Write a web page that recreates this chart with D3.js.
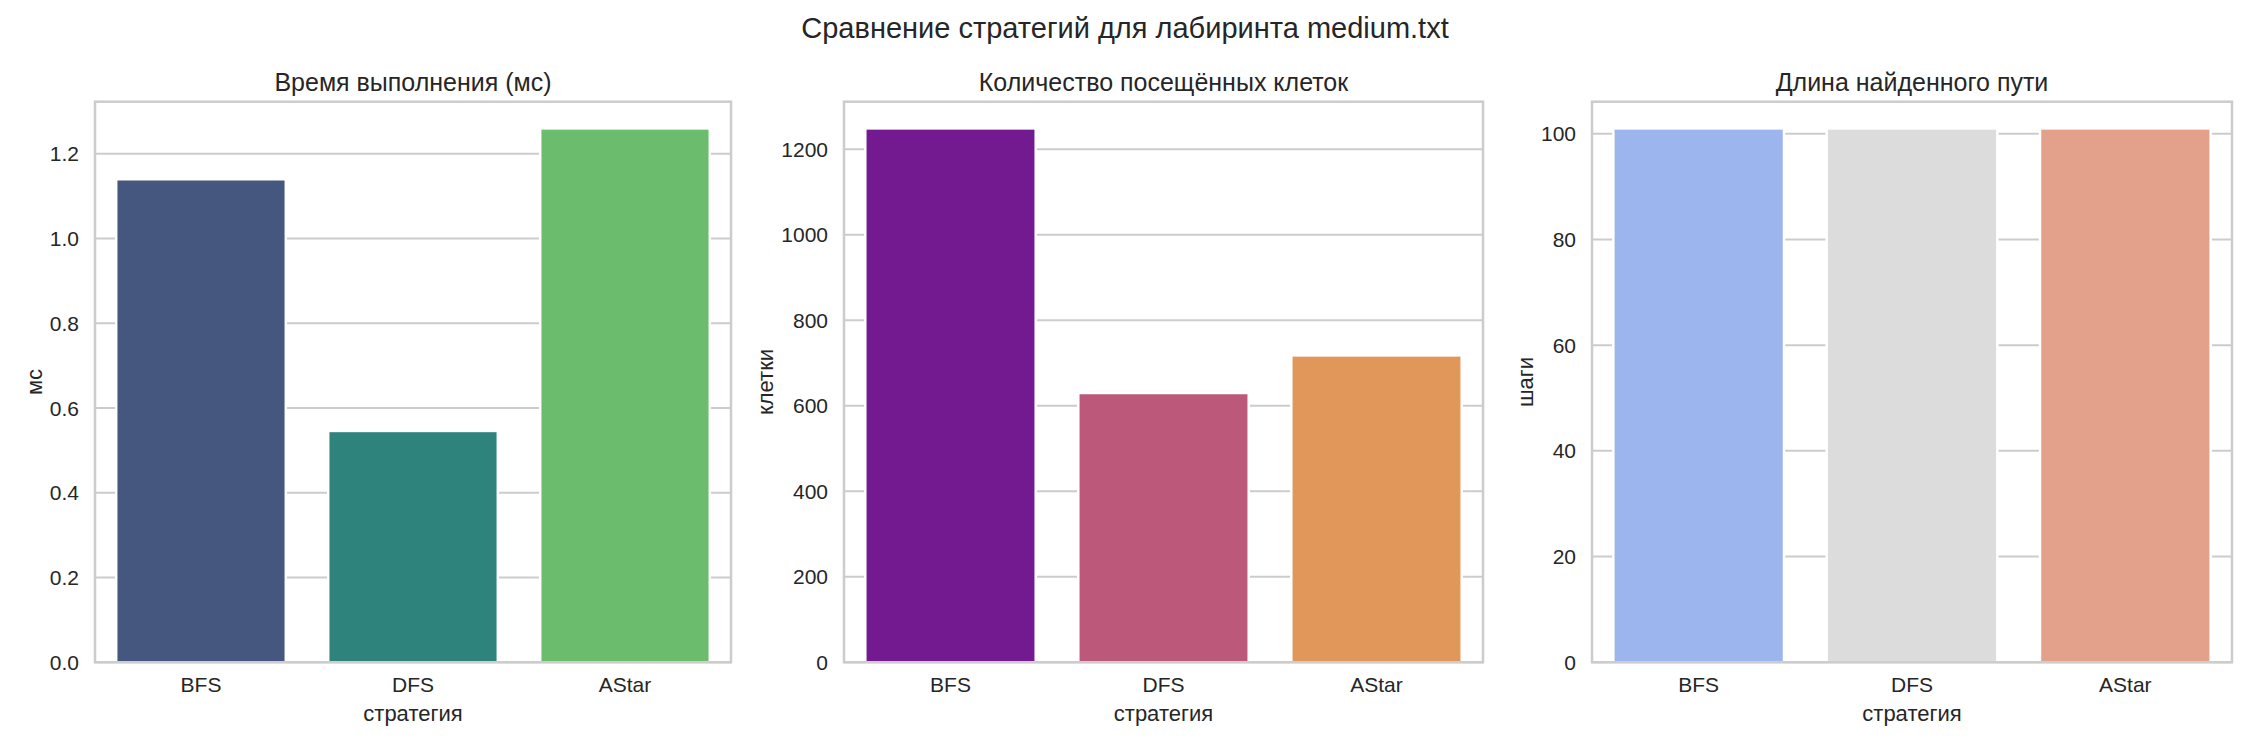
<!DOCTYPE html>
<html>
<head>
<meta charset="utf-8">
<script src="https://cdn.jsdelivr.net/npm/d3@7"></script>
<style>
  body { margin: 0; background: #fff; }
  text { font-family: "Liberation Sans", Arial, sans-serif; fill: #262626; }
</style>
</head>
<body>
<svg id="chart" width="2250" height="750"></svg>
<script>
// data
const strategies = ['BFS', 'DFS', 'AStar'];
const timeMs     = [1.14, 0.546, 1.26];
const visited    = [1249, 630, 718];
const pathLen    = [101, 101, 101];

const timeTicks    = [0, 0.2, 0.4, 0.6, 0.8, 1.0, 1.2];
const visitedTicks = [0, 200, 400, 600, 800, 1000, 1200];
const pathTicks    = [0, 20, 40, 60, 80, 100];

const suptitle = 'Сравнение стратегий для лабиринта medium.txt';
const xLabel   = 'стратегия';

const panels = [
    { title: 'Время выполнения (мс)',       yLabel: 'мс',     values: timeMs,  ticks: timeTicks,    fmt: d3.format('.1f'),
      colors: ['#46577f', '#2e837d', '#6bbd6d'], left: 95,   right: 731 },
    { title: 'Количество посещённых клеток', yLabel: 'клетки', values: visited, ticks: visitedTicks, fmt: d3.format('d'),
      colors: ['#731a90', '#bc597b', '#e1975a'], left: 844,  right: 1483 },
    { title: 'Длина найденного пути',        yLabel: 'шаги',   values: pathLen, ticks: pathTicks,    fmt: d3.format('d'),
      colors: ['#9cb5ef', '#dcdcdc', '#e3a08a'], left: 1592, right: 2232 }
];

const TOP = 101.7, BOTTOM = 662.3;
const GRID = '#cccccc';

const svg = d3.select('#chart');

svg.append('text')
    .attr('x', 1125).attr('y', 38)
    .attr('text-anchor', 'middle')
    .style('font-size', '29px')
    .text(suptitle);

panels.forEach(p => {
    const W = p.right - p.left;
    const H = BOTTOM - TOP;
    const g = svg.append('g').attr('transform', `translate(${p.left},${TOP})`);

    const x = d3.scaleBand().domain(strategies).range([0, W]).paddingInner(0.2).paddingOuter(0.1);
    const y = d3.scaleLinear().domain([0, d3.max(p.values) * 1.05]).range([H, 0]);

    // horizontal grid, behind the bars
    g.append('g')
        .selectAll('line')
        .data(p.ticks)
        .join('line')
        .attr('x1', 0).attr('x2', W)
        .attr('y1', d => y(d)).attr('y2', d => y(d))
        .attr('stroke', GRID)
        .attr('stroke-width', 2);

    g.selectAll('.bar')
        .data(p.values)
        .join('rect')
        .attr('class', 'bar')
        .attr('x', (d, i) => x(strategies[i]))
        .attr('width', x.bandwidth())
        .attr('y', d => y(d))
        .attr('height', d => H - y(d))
        .attr('fill', (d, i) => p.colors[i])
        .attr('stroke', '#fff')
        .attr('stroke-width', 2.5);

    // frame
    g.append('rect')
        .attr('width', W).attr('height', H)
        .attr('fill', 'none')
        .attr('stroke', GRID)
        .attr('stroke-width', 2.5);

    // y ticks
    const yt = g.append('g')
        .selectAll('text')
        .data(p.ticks)
        .join('text')
        .attr('x', -16)
        .attr('y', d => y(d))
        .attr('dy', '0.36em')
        .attr('text-anchor', 'end')
        .style('font-size', '21px')
        .text(p.fmt);

    // x ticks
    g.append('g')
        .selectAll('text')
        .data(strategies)
        .join('text')
        .attr('x', d => x(d) + x.bandwidth() / 2)
        .attr('y', H + 30)
        .attr('text-anchor', 'middle')
        .style('font-size', '21px')
        .text(d => d);

    g.append('text')
        .attr('x', W / 2).attr('y', H + 59)
        .attr('text-anchor', 'middle')
        .style('font-size', '22px')
        .text(xLabel);

    g.append('text')
        .attr('x', W / 2).attr('y', -11)
        .attr('text-anchor', 'middle')
        .style('font-size', '25px')
        .text(p.title);

    // y label sits just left of the widest tick label
    const minLeft = d3.min(yt.nodes(), n => n.getBBox().x);
    g.append('text')
        .attr('transform', `translate(${minLeft - 8},${H / 2}) rotate(-90)`)
        .attr('text-anchor', 'middle')
        .style('font-size', '22px')
        .text(p.yLabel);
});
</script>
</body>
</html>
